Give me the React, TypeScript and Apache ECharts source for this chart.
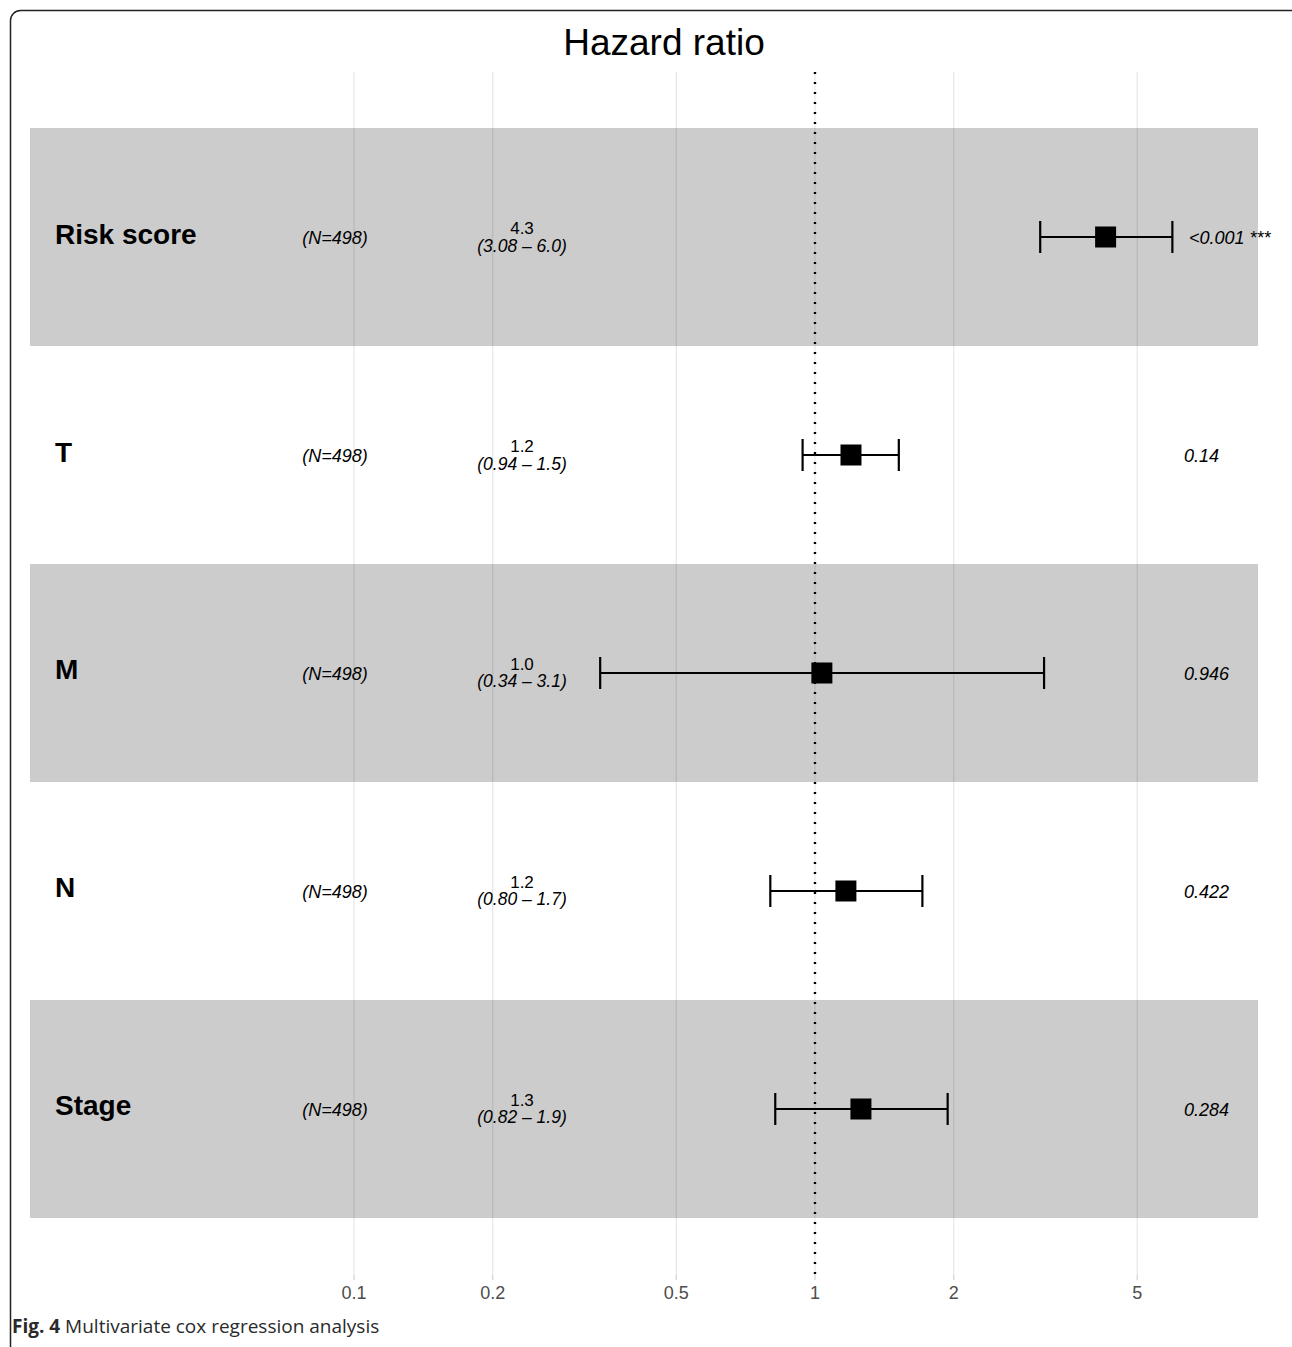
import React, { useEffect, useRef } from "react";
import * as echarts from "echarts";

// ---- data ----
const CATEGORIES = ["Risk score", "T", "M", "N", "Stage"];
const N_LABELS = ["(N=498)", "(N=498)", "(N=498)", "(N=498)", "(N=498)"];
const HR = [4.27, 1.197, 1.035, 1.167, 1.258];
const LOWER = [3.08, 0.94, 0.342, 0.8, 0.82];
const UPPER = [5.96, 1.52, 3.14, 1.71, 1.94];
const HR_TEXT = ["4.3", "1.2", "1.0", "1.2", "1.3"];
const CI_TEXT = ["(3.08 – 6.0)", "(0.94 – 1.5)", "(0.34 – 3.1)", "(0.80 – 1.7)", "(0.82 – 1.9)"];
const P_TEXT = ["<0.001 ***", "0.14", "0.946", "0.422", "0.284"];
const SHADED = [true, false, true, false, true];
const TICKS = [0.1, 0.2, 0.5, 1, 2, 5];
const TICK_LABELS = ["0.1", "0.2", "0.5", "1", "2", "5"];

// axis extents (log10 space / row space)
const XMIN = -1.7028;
const XMAX = 0.961;
const YMIN = -0.2569;
const YMAX = 5.2615;

const FONT = "'Liberation Sans', Arial, Helvetica, sans-serif";

export default function App() {
  const ref = useRef<HTMLDivElement>(null);

  useEffect(() => {
    document.body.style.margin = "0";
    const chart = echarts.init(ref.current!, null, { renderer: "svg" });

    const rows = CATEGORIES.map((c, i) => [
      Math.log10(HR[i]),
      i + 0.5,
      Math.log10(LOWER[i]),
      Math.log10(UPPER[i]),
      i,
    ]);

    const option: any = {
      animation: false,
      backgroundColor: "#ffffff",
      grid: { left: 30, right: 34, top: 72, bottom: 72, containLabel: false },
      xAxis: { type: "value", min: XMIN, max: XMAX, show: false, splitLine: { show: false } },
      yAxis: { type: "value", min: YMIN, max: YMAX, inverse: true, show: false, splitLine: { show: false } },
      graphic: [
        {
          type: "rect",
          shape: { x: 10.5, y: 10.5, width: 1290, height: 1345, r: 10 },
          style: { fill: "none", stroke: "#222", lineWidth: 1.5 },
          z: 100,
        },
        {
          type: "text",
          x: 664,
          y: 42,
          style: {
            text: "Hazard ratio",
            fontFamily: FONT,
            fontSize: 37,
            fill: "#000",
            align: "center",
            verticalAlign: "middle",
          },
        },
        {
          type: "text",
          left: 12,
          top: 1316,
          style: {
            text: "{b|Fig. 4} Multivariate cox regression analysis",
            fontFamily: "'Open Sans', sans-serif",
            fontSize: 19,
            fill: "#2a2a2a",
            rich: {
              b: { fontFamily: "'Open Sans', sans-serif", fontSize: 19, fontWeight: "bold", fill: "#2a2a2a" },
            },
          },
        },
      ],
      series: [
        {
          type: "custom",
          name: "bands",
          z: 1,
          silent: true,
          data: SHADED.map((s, i) => [XMIN, i, s ? 1 : 0]),
          renderItem: (params: any, api: any) => {
            if (!api.value(2)) return null;
            const i = api.value(1);
            const p0 = api.coord([XMIN, i]);
            const p1 = api.coord([XMAX, i + 1]);
            return {
              type: "rect",
              shape: { x: p0[0], y: p0[1], width: p1[0] - p0[0], height: p1[1] - p0[1] },
              style: { fill: "#cccccc" },
            };
          },
        },
        {
          type: "custom",
          name: "grid",
          z: 2,
          silent: true,
          data: TICKS.map((t, i) => [Math.log10(t), 0, i]),
          renderItem: (params: any, api: any) => {
            const v = api.value(0);
            const top = api.coord([v, YMIN]);
            const bot = api.coord([v, YMAX]);
            const idx = api.value(2);
            return {
              type: "group",
              children: [
                {
                  type: "line",
                  shape: { x1: top[0], y1: top[1], x2: bot[0], y2: bot[1] },
                  style: { stroke: "rgba(0,0,0,0.11)", lineWidth: 1.1 },
                },
                {
                  type: "line",
                  shape: { x1: bot[0], y1: bot[1], x2: bot[0], y2: bot[1] + 5 },
                  style: { stroke: "rgba(0,0,0,0.2)", lineWidth: 1.1 },
                },
                {
                  type: "text",
                  x: bot[0],
                  y: bot[1] + 18,
                  style: {
                    text: TICK_LABELS[idx],
                    fontFamily: FONT,
                    fontSize: 18,
                    fill: "#4d4d4d",
                    align: "center",
                    verticalAlign: "middle",
                  },
                },
              ],
            };
          },
        },
        {
          type: "custom",
          name: "ref",
          z: 3,
          silent: true,
          data: [[0, 0]],
          renderItem: (params: any, api: any) => {
            const top = api.coord([0, YMIN]);
            const bot = api.coord([0, YMAX]);
            return {
              type: "line",
              shape: { x1: top[0], y1: top[1], x2: bot[0], y2: bot[1] },
              style: { stroke: "#000", lineWidth: 2.4, lineDash: [2, 8] },
            };
          },
        },
        {
          type: "custom",
          name: "estimates",
          z: 4,
          silent: true,
          data: rows,
          renderItem: (params: any, api: any) => {
            const y = api.value(1);
            const c = api.coord([api.value(0), y]);
            const lo = api.coord([api.value(2), y]);
            const hi = api.coord([api.value(3), y]);
            const cap = 16;
            const sq = 21;
            const st = { stroke: "#000", lineWidth: 2.2 };
            return {
              type: "group",
              children: [
                { type: "line", shape: { x1: lo[0], y1: lo[1], x2: hi[0], y2: hi[1] }, style: st },
                { type: "line", shape: { x1: lo[0], y1: lo[1] - cap, x2: lo[0], y2: lo[1] + cap }, style: st },
                { type: "line", shape: { x1: hi[0], y1: hi[1] - cap, x2: hi[0], y2: hi[1] + cap }, style: st },
                {
                  type: "rect",
                  shape: { x: c[0] - sq / 2, y: c[1] - sq / 2, width: sq, height: sq },
                  style: { fill: "#000" },
                },
              ],
            };
          },
        },
        {
          type: "custom",
          name: "table",
          z: 5,
          silent: true,
          data: rows,
          renderItem: (params: any, api: any) => {
            const i = api.value(4);
            const y = api.value(1);
            const base = api.coord([XMIN, y]);
            const left = base[0];
            const cy = base[1];
            const t = (text: string, x: number, yy: number, extra: any) => ({
              type: "text",
              x,
              y: yy,
              style: Object.assign(
                { text, fontFamily: FONT, fontSize: 18, fill: "#000", verticalAlign: "middle" },
                extra
              ),
            });
            return {
              type: "group",
              children: [
                t(CATEGORIES[i], left + 25, cy - 3, { fontSize: 28, fontWeight: "bold", align: "left" }),
                t(N_LABELS[i], left + 305, cy + 1, { fontStyle: "italic", align: "center" }),
                t(HR_TEXT[i], left + 492, cy - 8.5, { fontSize: 17, align: "center" }),
                t(CI_TEXT[i], left + 492, cy + 8.5, { fontSize: 17.5, fontStyle: "italic", align: "center" }),
                t(P_TEXT[i], left + (i === 0 ? 1159 : 1154), cy + 1, { fontStyle: "italic", align: "left" }),
              ],
            };
          },
        },
      ],
    };

    chart.setOption(option);
    return () => chart.dispose();
  }, []);

  return <div ref={ref} style={{ width: 1292, height: 1347 }} />;
}
